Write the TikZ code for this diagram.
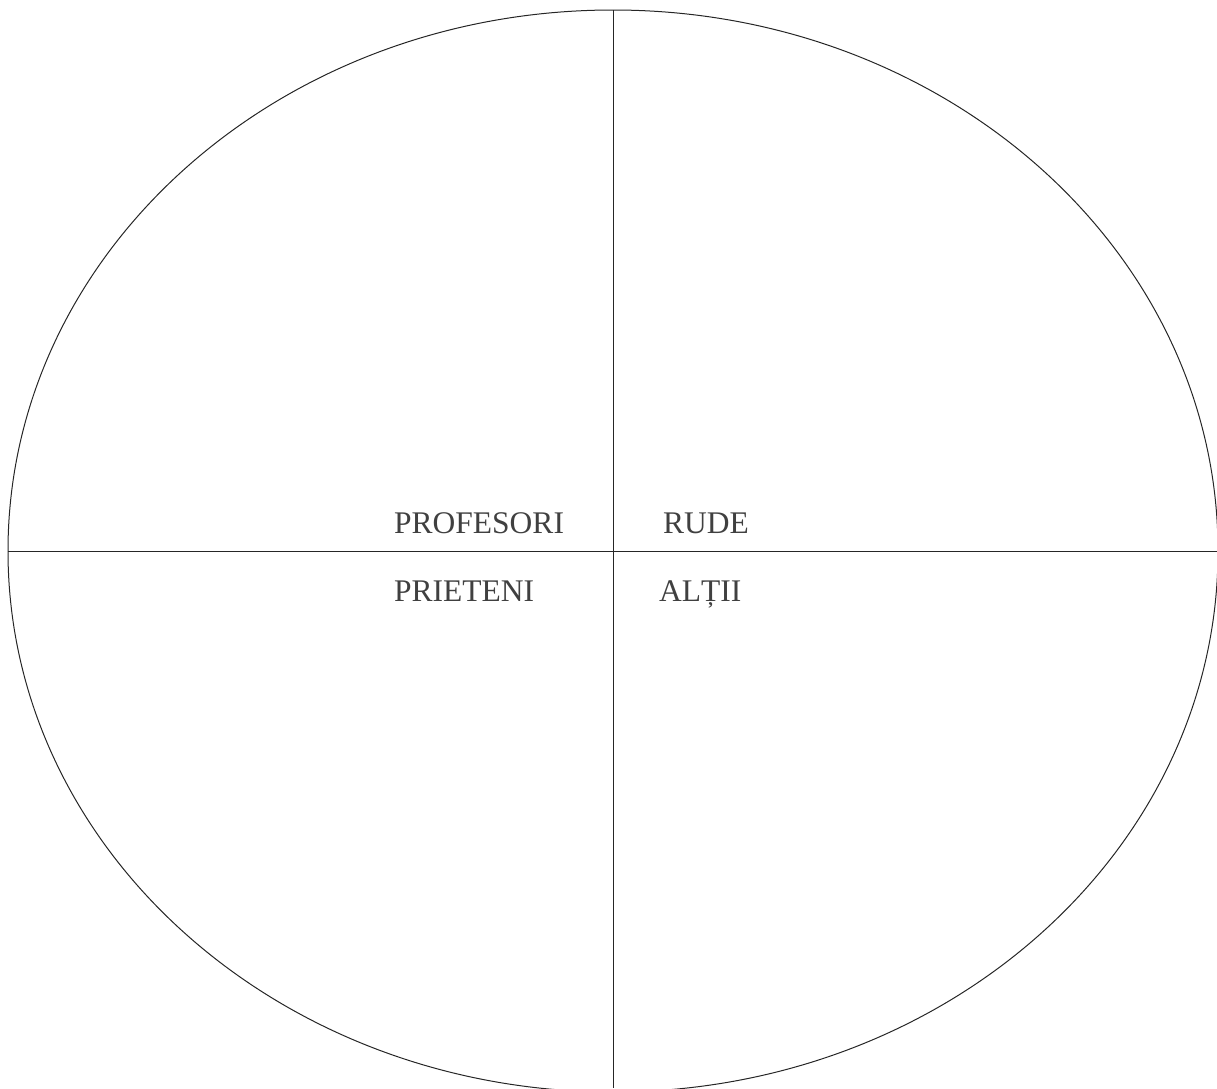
\documentclass[tikz,border=0pt]{standalone}
\usepackage{fontspec}
\setmainfont{Liberation Serif}
\begin{document}
\begin{tikzpicture}[x=1pt,y=-1pt,
  line/.style={draw=black!85, line width=1pt},
  lbl/.style={anchor=base west, inner sep=0pt, text=black!75, font=\fontsize{31.5}{36}\selectfont}]
\useasboundingbox (0,0) rectangle (1217,1088);
\clip (0,0) rectangle (1217,1088);
\coordinate (c) at (613,551);
\coordinate (top) at (613,10);
\coordinate (bot) at (613,1088);
\coordinate (lft) at (8,551);
\coordinate (rgt) at (1217,551);
\draw[line] (c) ellipse [x radius=605, y radius=541];
\draw[line] (top) -- (bot);
\draw[line] (lft) -- (rgt);
\node[lbl] (prof) at (394,533) {PROFESORI};
\node[lbl] (rude) at (663,533) {RUDE};
\node[lbl] (prie) at (394,601) {PRIETENI};
\node[lbl] (alti) at (659,601) {ALȚII};
\end{tikzpicture}
\end{document}
